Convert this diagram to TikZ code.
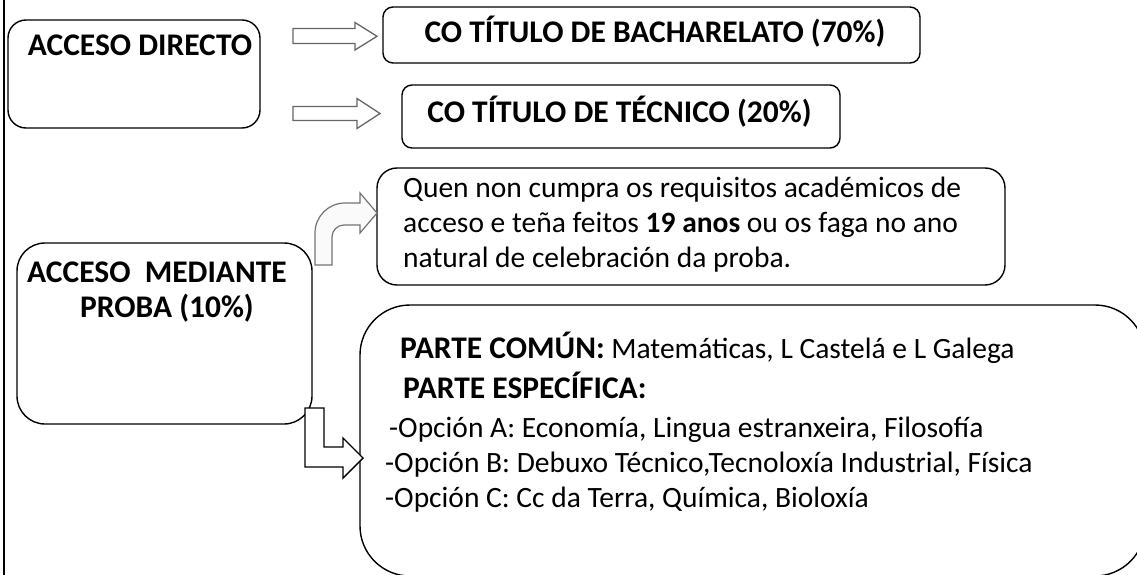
\documentclass[tikz,border=0pt]{standalone}
\usepackage{fontspec}
\setmainfont{Carlito}
\newcommand{\bighead}[1]{{\fontsize{31.5}{35}\selectfont\bfseries #1}}
\begin{document}
\begin{tikzpicture}[x=1pt,y=-1pt,
  box/.style={draw=black, line width=1.4pt, rounded corners=#1, inner sep=0pt},
  box/.default=18pt,
  head/.style={font=\fontsize{31.5}{35}\selectfont\bfseries, inner sep=0pt, anchor=base},
  body/.style={font=\fontsize{29.5}{35}\selectfont, inner sep=0pt, anchor=base west},
  blockarrow/.style={draw=black!60, line width=1.3pt, fill=white, line join=miter},
  curvearrow/.style={draw=black!55, line width=1.2pt, fill=black!2, line join=miter},
  larrow/.style={draw=black, line width=1.4pt, fill=white, line join=miter}
]
\useasboundingbox (0,0) rectangle (1137,575);
\clip (0,0) rectangle (1137,575);

% left border line
\coordinate (ltop) at (4,0);
\coordinate (lbot) at (4,575);
\draw[line width=1.4pt] (ltop) -- (lbot);

% boxes
\node[box=18pt, minimum width=252pt, minimum height=108pt] (direct) at (134,74) {};
\node[box=10pt, minimum width=537pt, minimum height=56pt] (bach) at (651.5,35) {};
\node[box=10pt, minimum width=438pt, minimum height=63pt] (tec) at (621,116.5) {};
\node[box=28pt, minimum width=295pt, minimum height=181pt] (med) at (164.5,333.5) {};
\node[box=20pt, minimum width=628pt, minimum height=117pt] (quen) at (691,226.5) {};
\node[box=50pt, minimum width=785pt, minimum height=271pt] (parte) at (752.5,440.5) {};

% headings
\node[head] (tdirect) at (140,56) {ACCESO DIRECTO};
\node[head] (tbach) at (655,43) {CO TÍTULO DE BACHARELATO (70\%)};
\node[head] (ttec) at (619.5,122) {CO TÍTULO DE TÉCNICO (20\%)};
\node[head] (tmed1) at (157,282) {ACCESO\ \ MEDIANTE};
\node[head] (tmed2) at (167,317) {PROBA (10\%)};

% body text
\node[body] (q1) at (403,197) {Quen non cumpra os requisitos académicos de};
\node[body] (q2) at (403,232) {acceso e teña feitos \textbf{19 anos} ou os faga no ano};
\node[body] (q3) at (403,267) {natural de celebración da proba.};
\node[body] (p1) at (400,358) {\bighead{PARTE COMÚN:} Matemáticas, L Castelá e L Galega};
\node[body] (p2) at (403,398) {\bighead{PARTE ESPECÍFICA:}};
\node[body] (pa) at (389,437) {-Opción A: Economía, Lingua estranxeira, Filosofía};
\node[body] (pb) at (385,472) {-Opción B: Debuxo Técnico,Tecnoloxía Industrial, Física};
\node[body] (pc) at (385,507) {-Opción C: Cc da Terra, Química, Bioloxía};

% block arrows from ACCESO DIRECTO
\draw[blockarrow] (293,28.5) -- (355,28.5) -- (355,22.5) -- (377,36.3) -- (355,50) -- (355,43.5) -- (293,43.5) -- cycle;
\draw[blockarrow] (293,106.5) -- (357,106.5) -- (357,98.5) -- (380,113.5) -- (357,128.5) -- (357,120.5) -- (293,120.5) -- cycle;

% curved arrow to the "Quen" box
\draw[curvearrow] (315,265) -- (332,265) -- (332,237)
  .. controls (332,230.4) and (337.4,225) .. (344,225)
  -- (360,225) -- (360,233) -- (377,213) -- (360,193) -- (360,203) -- (345,203)
  .. controls (328.4,203) and (315,216.4) .. (315,233) -- cycle;

% L-shaped arrow to the PARTE box
\draw[larrow] (305,408) -- (324,408) -- (324,447) -- (343,447) -- (343,438) -- (363,458)
  -- (343,478) -- (343,467) -- (305,467) -- cycle;
\end{tikzpicture}
\end{document}
